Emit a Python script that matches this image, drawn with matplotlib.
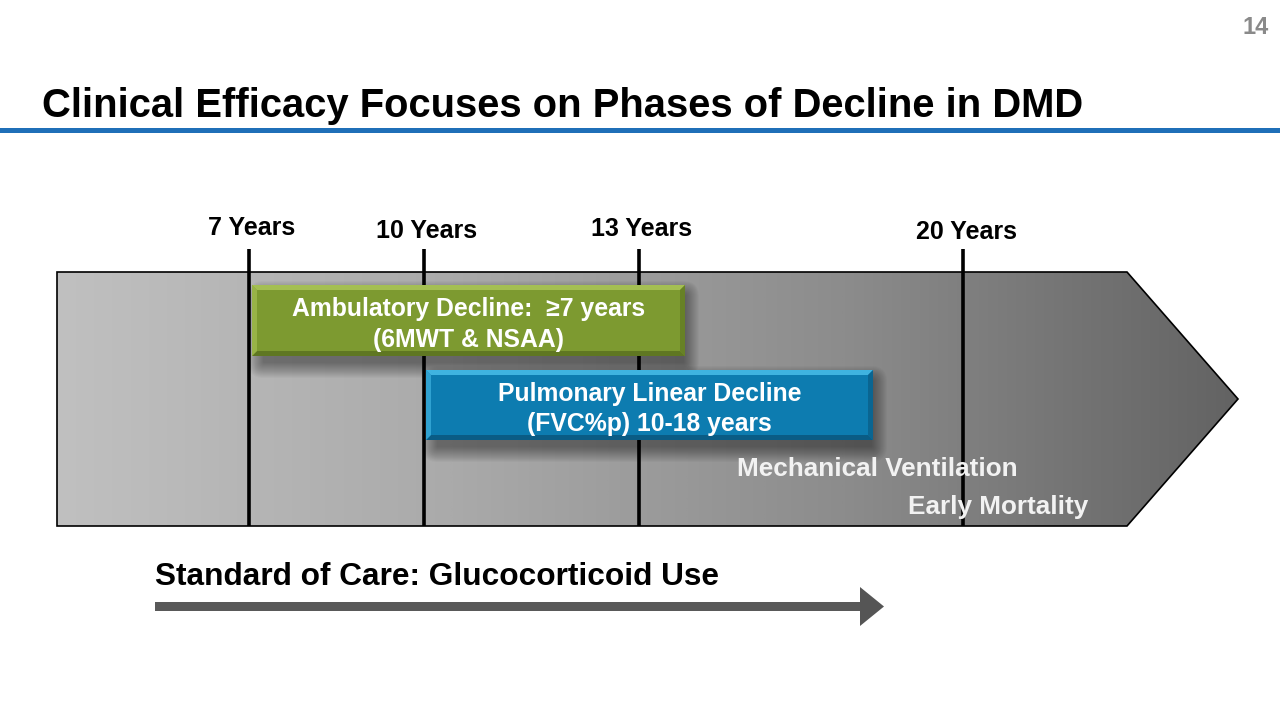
import matplotlib
matplotlib.use("Agg")
import matplotlib.pyplot as plt
import numpy as np
from matplotlib.patches import Polygon, Rectangle, FancyBboxPatch
from matplotlib.colors import LinearSegmentedColormap

# ---- content ----
title = "Clinical Efficacy Focuses on Phases of Decline in DMD"
page_number = "14"
year_labels = ["7 Years", "10 Years", "13 Years", "20 Years"]
year_x = [249, 424, 639, 963]
label_y = [228, 231, 229, 232]
phase_texts = ["Ambulatory Decline:  \u22657 years\n(6MWT & NSAA)",
               "Pulmonary Linear Decline\n(FVC%p) 10-18 years"]
outcome_texts = ["Mechanical Ventilation", "Early Mortality"]
care_text = "Standard of Care: Glucocorticoid Use"

plt.rcParams['font.family'] = ['Liberation Sans', 'DejaVu Sans']

fig = plt.figure(figsize=(12.8, 7.2), dpi=100)
ax = fig.add_axes([0, 0, 1, 1])
ax.set_xlim(0, 1280)
ax.set_ylim(720, 0)
ax.axis('off')

# page number
ax.text(1269, 28, page_number, ha='right', va='center', fontsize=17,
        fontweight='bold', color='#8a8a8a')

# title
ax.text(42, 106, title, ha='left', va='center', fontsize=28.8,
        fontweight='bold', color='black')
ax.add_patch(Rectangle((0, 127.5), 1280, 5, color='#1f6fb8', lw=0))

# big gradient arrow
pts = [(57, 272), (1127, 272), (1238, 399), (1127, 526), (57, 526)]
poly = Polygon(pts, closed=True, facecolor='none', edgecolor='black', lw=1.2, zorder=3)
ax.add_patch(poly)
cmap = LinearSegmentedColormap.from_list('g', ['#c0c0c0', '#aaaaaa', '#8c8c8c', '#636363'])
grad = np.linspace(0, 1, 512).reshape(1, -1)
im = ax.imshow(grad, cmap=cmap, extent=(57, 1238, 526, 272), aspect='auto', zorder=1)
clip = Polygon(pts, closed=True, transform=ax.transData)
im.set_clip_path(clip)

# year markers
for x, lab, ly in zip(year_x, year_labels, label_y):
    ax.plot([x, x], [249, 526], color='black', lw=2.6, zorder=4, solid_capstyle='butt')
    ax.text(x + 3, ly, lab, ha='center', va='center', fontsize=18,
            fontweight='bold', color='black', zorder=5)

def bevel_box(x0, y0, x1, y1, base, light, dark, text):
    # soft shadow
    w, h = x1 - x0, y1 - y0
    for r in range(16, 0, -1):
        ax.add_patch(FancyBboxPatch((x0 + 12, y0 + 12), w - 14, h - 6,
                                    boxstyle=f"round,pad={r},rounding_size={r}",
                                    facecolor='black', alpha=0.028, lw=0, zorder=5))
    b = 5
    ax.add_patch(Rectangle((x0, y0), w, h, color=base, lw=0, zorder=6))
    ax.add_patch(Polygon([(x0, y0), (x1, y0), (x1 - b, y0 + b), (x0 + b, y0 + b)],
                         color=light, lw=0, zorder=7))
    ax.add_patch(Polygon([(x0, y1), (x1, y1), (x1 - b, y1 - b), (x0 + b, y1 - b)],
                         color=dark, lw=0, zorder=7))
    ax.add_patch(Polygon([(x0, y0), (x0 + b, y0 + b), (x0 + b, y1 - b), (x0, y1)],
                         color=light, lw=0, zorder=7, alpha=0.7))
    ax.add_patch(Polygon([(x1, y0), (x1 - b, y0 + b), (x1 - b, y1 - b), (x1, y1)],
                         color=dark, lw=0, zorder=7, alpha=0.7))
    ax.text((x0 + x1) / 2, (y0 + y1) / 2 + 4, text, ha='center', va='center',
            fontsize=17.8, fontweight='bold', color='white', linespacing=1.32, zorder=8)

bevel_box(252, 285, 685, 356, '#7d9a30', '#a4bf52', '#5f7722', phase_texts[0])
bevel_box(426, 370, 873, 440, '#0d7cb0', '#3fb3e0', '#0a5c85', phase_texts[1])

ax.text(737, 469, outcome_texts[0], ha='left', va='center', fontsize=18.8,
        fontweight='bold', color='#f2f2f2', zorder=8)
ax.text(908, 507, outcome_texts[1], ha='left', va='center', fontsize=18.8,
        fontweight='bold', color='#f2f2f2', zorder=8)

# standard of care arrow
ax.text(155, 577, care_text, ha='left', va='center', fontsize=22.8,
        fontweight='bold', color='black')
ax.add_patch(Rectangle((155, 602), 706, 9, color='#595959', lw=0))
ax.add_patch(Polygon([(860, 587), (884, 606.5), (860, 626)], color='#555555', lw=0))

fig.savefig('out.png', dpi=100)
